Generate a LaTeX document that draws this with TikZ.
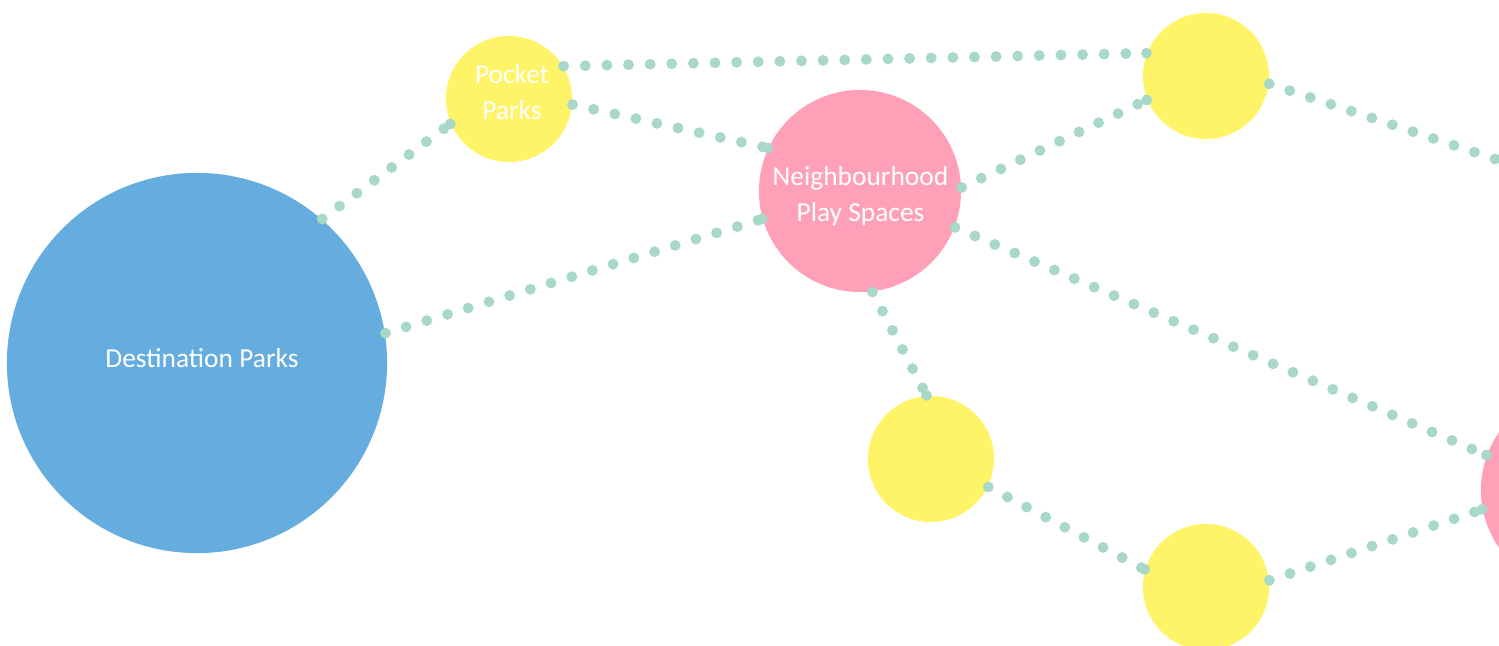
\documentclass[tikz,border=0pt]{standalone}
\usepackage{fontspec}
\setmainfont{Carlito}
\usetikzlibrary{decorations.markings}
\definecolor{cblue}{HTML}{64ADDE}
\definecolor{cyellow}{HTML}{FFF467}
\definecolor{cpink}{HTML}{FFA0B9}
\definecolor{cdot}{HTML}{A8D8C8}
\tikzset{
  park/.style={circle, draw=none, inner sep=0pt, text=white, align=center,
    font=\fontsize{7.8}{10.2}\selectfont},
  bigpark/.style={park, fill=cblue, minimum size=3.80cm},
  midpark/.style={park, fill=cpink, minimum size=2.02cm},
  smallpark/.style={park, fill=cyellow, minimum size=1.26cm},
  link/.style={draw=cdot, line width=3.1pt, line cap=round, dash pattern=on 0pt off 6.15pt,
    postaction={decorate, decoration={markings, mark=at position 1 with {\fill[cdot] (0,0) circle (1.55pt);}}}},
}
\begin{document}
\begin{tikzpicture}[x=0.01cm, y=-0.01cm]
\useasboundingbox (0,0) rectangle (1499,646);
\clip (0,0) rectangle (1499,646);
\node[bigpark] (dest) at (197,363) {};
\node[smallpark] (pocket) at (509,99) {};
\node[midpark] (neigh) at (860,191) {};
\node[smallpark] (ytr) at (1206,76) {};
\node[smallpark] (ybm) at (931,459) {};
\node[smallpark] (ybr) at (1206,587) {};
\node[midpark] (pright) at (1582,490) {};
\node[park, anchor=center] (destlabel) at (202,358) {Destination Parks};
\node[park, anchor=center] (pocketlabel) at (512,92) {Pocket\\Parks};
\node[park, anchor=center] (neighlabel) at (860.5,196) {Neighbourhood\\Play Spaces};
\coordinate (offtr) at (1600,194);

\draw[link] (dest.49.3) -- (pocket.203.9);
\draw[link] (dest.9.6) -- (neigh.196.5);
\draw[link] (pocket.31.1) -- (ytr.159.9);
\draw[link] (pocket.355.2) -- (neigh.155.1);
\draw[link] (neigh.2.8) -- (ytr.202.3);
\draw[link] (ytr.-7) -- (offtr);
\draw[link] (neigh.-21.8) -- (pright.160);
\draw[link] (neigh.-83.2) -- (ybm.94.5);
\draw[link] (ybm.-26.6) -- (ybr.164.5);
\draw[link] (ybr.6.4) -- (pright.191.4);
\end{tikzpicture}
\end{document}
